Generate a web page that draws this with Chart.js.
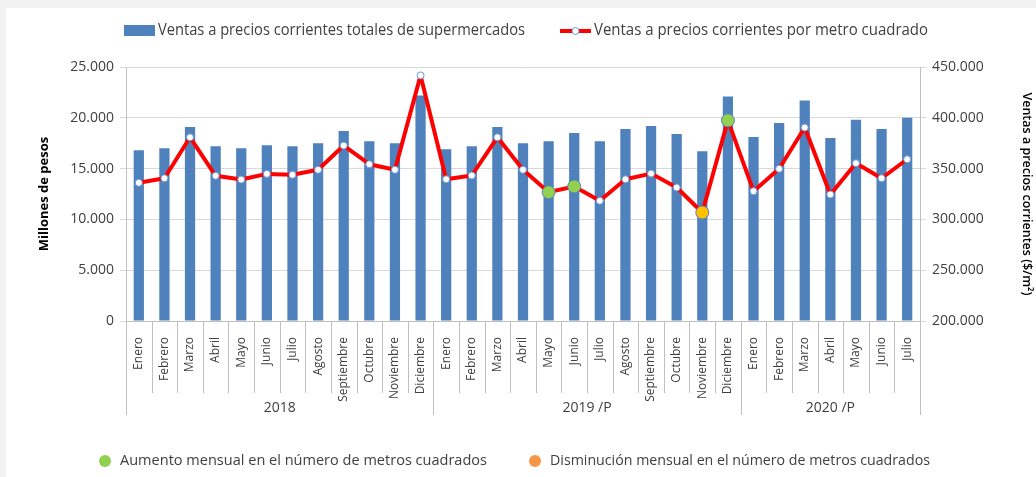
<!DOCTYPE html>
<html>
<head>
<meta charset="utf-8">
<script src="https://cdn.jsdelivr.net/npm/chart.js@4.4.1/dist/chart.umd.min.js"></script>
<style>
  html, body { margin: 0; padding: 0; background: #ffffff; }
  #wrap { width: 1036px; height: 477px; }
</style>
</head>
<body>
<div id="wrap"><canvas id="grafico" width="1036" height="477"></canvas></div>
<script>
// ---------- datos ----------
const meses = ["Enero", "Febrero", "Marzo", "Abril", "Mayo", "Junio", "Julio",
  "Agosto", "Septiembre", "Octubre", "Noviembre", "Diciembre"];
const anios = ["2018", "2019 /P", "2020 /P"];
const mesesPorAnio = [12, 12, 7];
const etiquetas = [...meses, ...meses, ...meses.slice(0, 7)];

// millones de pesos
const ventasTotales = [
  16800, 17000, 19100, 17200, 17000, 17300, 17200, 17500, 18700, 17700, 17500, 22200,
  16900, 17200, 19100, 17500, 17700, 18500, 17700, 18900, 19200, 18400, 16700, 22100,
  18100, 19500, 21700, 18000, 19800, 18900, 20000
];
// $/m2
const ventasPorM2 = [
  336000, 340500, 380800, 342900, 339200, 344800, 343900, 348800, 372700, 354300, 348800, 441700,
  339500, 343200, 380800, 348800, 326800, 332400, 318300, 339500, 345100, 331400, 306800, 397500,
  327800, 349800, 390400, 324500, 355300, 340500, 359200
];
// meses con cambio en el número de metros cuadrados
const aumento = [16, 17, 23];
const disminucion = [22];

const serieBarras = "Ventas a precios corrientes totales de supermercados";
const serieLinea = "Ventas a precios corrientes por metro cuadrado";
const textoAumento = "Aumento mensual en el número de metros cuadrados";
const textoDisminucion = "Disminución mensual en el número de metros cuadrados";

// ---------- estilos ----------
const AZUL = "#4f81bd";
const ROJO = "#ff0000";
const VERDE = "#92d050";
const AMARILLO = "#ffc000";
const NARANJA = "#f79646";
const GRIS = "#bfbfbf";
const FUENTE = "'Open Sans', 'Noto Sans', sans-serif";

const puntosColor = ventasPorM2.map((v, i) =>
  aumento.includes(i) ? VERDE : disminucion.includes(i) ? AMARILLO : "#ffffff");
const puntosRadio = ventasPorM2.map((v, i) =>
  aumento.includes(i) || disminucion.includes(i) ? 6.5 : 3.5);
const puntosBorde = ventasPorM2.map((v, i) =>
  aumento.includes(i) || disminucion.includes(i) ? "#5b86b5" : "#6d9bd1");

function miles(v) {
  return String(v).replace(/\B(?=(\d{3})+(?!\d))/g, ".");
}

// texto angosto: se comprime en x hasta el ancho pedido
function textoAngosto(ctx, txt, x, y, ancho) {
  const w = ctx.measureText(txt).width;
  ctx.save();
  ctx.translate(x, y);
  ctx.scale(ancho / w, 1);
  ctx.fillText(txt, 0, 0);
  ctx.restore();
}

Chart.defaults.font.family = FUENTE;
Chart.defaults.color = "#404040";

// fondo, separadores del eje, años y leyendas
const extras = {
  id: "extras",
  beforeDraw(chart) {
    const ctx = chart.ctx;
    ctx.save();
    ctx.fillStyle = "#ffffff";
    ctx.fillRect(0, 0, chart.width, chart.height);
    ctx.fillStyle = "#f2f2f2";
    ctx.fillRect(0, 0, chart.width, 8);
    ctx.fillRect(0, 0, 6, chart.height);
    ctx.restore();
  },
  afterDraw(chart) {
    const ctx = chart.ctx;
    const x = chart.scales.x;
    const area = chart.chartArea;
    const ancho = x.getPixelForValue(1) - x.getPixelForValue(0);
    const base = area.bottom;

    ctx.save();
    ctx.strokeStyle = GRIS;
    ctx.lineWidth = 1;

    // separadores entre meses y entre años
    const cortes = [0];
    mesesPorAnio.reduce((acc, n) => { cortes.push(acc + n); return acc + n; }, 0);
    for (let i = 0; i <= etiquetas.length; i++) {
      const px = Math.round(x.getPixelForValue(i) - ancho / 2) + 0.5;
      const largo = cortes.includes(i) ? 94 : 72;
      ctx.beginPath();
      ctx.moveTo(px, base);
      ctx.lineTo(px, base + largo);
      ctx.stroke();
    }

    // años
    ctx.fillStyle = "#404040";
    ctx.font = "14px " + FUENTE;
    ctx.textAlign = "center";
    ctx.textBaseline = "middle";
    anios.forEach((a, k) => {
      const i0 = cortes[k], i1 = cortes[k + 1];
      const cx = (x.getPixelForValue(i0) + x.getPixelForValue(i1 - 1)) / 2;
      ctx.fillText(a, cx, base + 87);
    });

    // leyenda superior
    ctx.textAlign = "left";
    ctx.font = "16px " + FUENTE;
    ctx.fillStyle = AZUL;
    ctx.fillRect(124, 25, 31, 11);
    ctx.fillStyle = "#404040";
    textoAngosto(ctx, serieBarras, 158, 30, 367);

    ctx.strokeStyle = ROJO;
    ctx.lineWidth = 4;
    ctx.beginPath();
    ctx.moveTo(560, 31);
    ctx.lineTo(591, 31);
    ctx.stroke();
    ctx.beginPath();
    ctx.arc(575.5, 31, 3.5, 0, Math.PI * 2);
    ctx.fillStyle = "#ffffff";
    ctx.fill();
    ctx.lineWidth = 1;
    ctx.strokeStyle = "#6d9bd1";
    ctx.stroke();
    ctx.fillStyle = "#404040";
    textoAngosto(ctx, serieLinea, 594, 30, 334);

    // leyenda inferior
    ctx.font = "14.4px " + FUENTE;
    ctx.beginPath();
    ctx.arc(105, 461, 6, 0, Math.PI * 2);
    ctx.fillStyle = VERDE;
    ctx.fill();
    ctx.fillStyle = "#404040";
    textoAngosto(ctx, textoAumento, 120, 461, 367);
    ctx.beginPath();
    ctx.arc(535, 461, 6, 0, Math.PI * 2);
    ctx.fillStyle = NARANJA;
    ctx.fill();
    ctx.fillStyle = "#404040";
    textoAngosto(ctx, textoDisminucion, 550, 461, 380);
    ctx.restore();
  }
};

new Chart(document.getElementById("grafico"), {
  data: {
    labels: etiquetas,
    datasets: [
      {
        type: "line",
        label: serieLinea,
        data: ventasPorM2,
        yAxisID: "y1",
        order: 0,
        borderColor: ROJO,
        borderWidth: 4,
        borderJoinStyle: "round",
        tension: 0,
        pointRadius: puntosRadio,
        pointBackgroundColor: puntosColor,
        pointBorderColor: puntosBorde,
        pointBorderWidth: 1
      },
      {
        type: "bar",
        label: serieBarras,
        data: ventasTotales,
        yAxisID: "y",
        order: 1,
        backgroundColor: AZUL,
        categoryPercentage: 1,
        barPercentage: 0.4
      }
    ]
  },
  options: {
    responsive: false,
    animation: false,
    devicePixelRatio: 1,
    layout: { padding: { top: 67, bottom: 62, left: 0, right: 0 } },
    plugins: {
      legend: { display: false },
      tooltip: { enabled: false }
    },
    scales: {
      x: {
        grid: { display: false },
        border: { display: true, color: GRIS },
        ticks: {
          autoSkip: false,
          minRotation: 90,
          maxRotation: 90,
          padding: 8,
          font: { size: 12 }
        },
        afterFit(s) { s.height = 94; }
      },
      y: {
        position: "left",
        min: 0,
        max: 25000,
        grid: { color: "#d9d9d9", tickLength: 6 },
        border: { color: GRIS },
        ticks: { stepSize: 5000, padding: 6, font: { size: 14 }, callback: v => miles(v) },
        title: {
          display: true,
          text: "Millones de pesos",
          color: "#000000",
          font: { size: 13, weight: "bold" },
          padding: { top: 36 }
        },
        afterFit(s) { s.width = 126; }
      },
      y1: {
        position: "right",
        min: 200000,
        max: 450000,
        grid: { drawOnChartArea: false, color: "#d9d9d9", tickLength: 6 },
        border: { color: GRIS },
        ticks: { stepSize: 50000, padding: 6, font: { size: 14 }, callback: v => miles(v) },
        title: {
          display: true,
          text: "Ventas a precios corrientes ($/m²)",
          color: "#000000",
          font: { size: 12.5, weight: "600" },
          padding: { top: 2 }
        },
        afterFit(s) { s.width = 116; }
      }
    }
  },
  plugins: [extras]
});
</script>
</body>
</html>
